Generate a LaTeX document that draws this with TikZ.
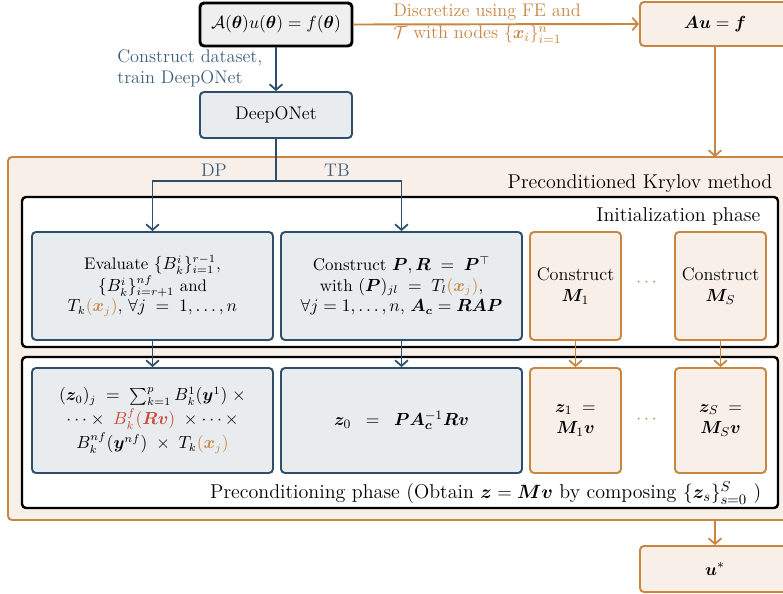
\documentclass[tikz,border=0pt]{standalone}
\usepackage{amsmath,amssymb,bm}
\usetikzlibrary{arrows.meta}
\definecolor{bl}{HTML}{2D4F6C}
\definecolor{bltext}{HTML}{3E5F7A}
\definecolor{blfill}{HTML}{E8ECEF}
\definecolor{orl}{HTML}{C98641}
\definecolor{peach}{HTML}{F8EFE9}
\definecolor{grayfill}{HTML}{EFEFEF}
\definecolor{redt}{HTML}{D0473A}
\newcommand{\orx}[1]{\textcolor{orl}{#1}}
\begin{document}
\begin{tikzpicture}[x=0.625pt,y=-0.625pt,
  tip/.style={-{Straight Barb[length=3.5pt,width=8pt,line width=1.1pt]}},
  bbox/.style={draw=bl,fill=blfill,line width=1.2pt,rounded corners=2.5pt,align=center,inner sep=2pt},
  obox/.style={draw=orl,fill=peach,line width=1.2pt,rounded corners=2.5pt,align=center,inner sep=2pt},
  phase/.style={draw=black,fill=white,line width=1.5pt,rounded corners=2.5pt},
  bline/.style={draw=bl,line width=1.2pt},
  oline/.style={draw=orl,line width=1.2pt},
  fn/.style={font=\fontsize{11.4}{13.6}\selectfont},
  fs/.style={font=\fontsize{10.5}{12.6}\selectfont},
  fp/.style={font=\fontsize{10.5}{15}\selectfont},
  fm/.style={font=\fontsize{10.6}{12.8}\selectfont},
  fl/.style={font=\fontsize{12.5}{15}\selectfont},
]
\useasboundingbox (0,0) rectangle (783,594);

% outer orange region
\path[draw=orl,fill=peach,line width=1.2pt,rounded corners=2.5pt] (8,157) rectangle (800,520);
\node[fl,anchor=east] (krylov) at (778,184) {Preconditioned Krylov method};

% phases
\path[phase] (22,197) rectangle (778,347);
\node[fl,anchor=east] (initlab) at (766,217) {Initialization phase};
\path[phase] (22,357) rectangle (778,508);
\node[fl,anchor=east] (prelab) at (767,493) {Preconditioning phase (Obtain $\bm{z}=\bm{Mv}$ by composing $\{\bm{z}_s\}_{s=0}^{S}$ )};

% top nodes
\node[fn,draw=black,fill=grayfill,line width=1.8pt,rounded corners=2.5pt,minimum width=152*0.625pt,minimum height=43*0.625pt] (pde) at (276,24.5) {$\mathcal{A}(\bm{\theta})u(\bm{\theta}) = f(\bm{\theta})$};
\node[fn,obox,minimum width=150*0.625pt,minimum height=44*0.625pt] (auf) at (715,24) {$\bm{Au}=\bm{f}$};
\node[fn,bbox,minimum width=152*0.625pt,minimum height=46*0.625pt] (don) at (276,115) {DeepONet};
\node[fn,obox,minimum width=150*0.625pt,minimum height=46*0.625pt] (ustar) at (715,569) {$\bm{u}^{*}$};

% init boxes
\node[fs,bbox,minimum width=241*0.625pt,minimum height=108*0.625pt] (e1) at (152.5,286) {Evaluate $\{B_k^i\}_{i=1}^{r-1}$,\\ $\{B_k^i\}_{i=r+1}^{nf}$ and\\ $T_k\orx{(\bm{x}_j)}$, $\forall j\;=\;1,\dots,n$};
\node[fm,bbox,minimum width=241*0.625pt,minimum height=108*0.625pt] (e2) at (401.5,286) {Construct $\bm{P},\bm{R}\;=\;\bm{P}^{\top}$\\ with $(\bm{P})_{jl}\;=\;T_l\orx{(\bm{x}_j)}$,\\ $\forall j=1,\dots,n$, $\bm{A_c}=\bm{RAP}$};
\node[fn,obox,minimum width=91*0.625pt,minimum height=108*0.625pt] (m1) at (575.5,286) {Construct\\ $\bm{M}_1$};
\node[fn,obox,minimum width=91*0.625pt,minimum height=108*0.625pt] (mS) at (720.5,286) {Construct\\ $\bm{M}_S$};
\node[fn,text=orl] (dots1) at (648,283) {$\cdots$};

% precond boxes
\node[fp,bbox,minimum width=241*0.625pt,minimum height=105*0.625pt] (p1) at (152.5,420.5) {$(\bm{z}_0)_j\;=\;\sum_{k=1}^{p} B_k^1(\bm{y}^1)\;\times$\\ $\cdots\times\;\textcolor{redt}{B_k^f(\bm{Rv})}\;\times\cdots\times$\\ $B_k^{nf}(\bm{y}^{nf})\;\times\;T_k\orx{(\bm{x}_j)}$};
\node[fn,bbox,minimum width=241*0.625pt,minimum height=105*0.625pt] (p2) at (401.5,420.5) {$\bm{z}_0\;\;=\;\;\bm{P}\bm{A_c}^{-1}\bm{Rv}$};
\node[fn,obox,minimum width=91*0.625pt,minimum height=105*0.625pt] (z1) at (575.5,420.5) {$\bm{z}_1\;=$\\ $\bm{M}_1\bm{v}$};
\node[fn,obox,minimum width=91*0.625pt,minimum height=105*0.625pt] (zS) at (720.5,420.5) {$\bm{z}_S\;=$\\ $\bm{M}_S\bm{v}$};
\node[fn,text=orl] (dots2) at (648,420) {$\cdots$};

% connectors
\draw[oline,tip] (pde.east) -- (auf.west);
\node[fn,text=orl,anchor=north west,align=left,inner sep=0pt] (disc) at (393,4) {Discretize using FE and\\ $\mathcal{T}$ with nodes $\{\bm{x}_i\}_{i=1}^{n}$};
\draw[bline,tip] (pde.south) -- (don.north);
\node[fn,text=bltext,anchor=north west,align=left,inner sep=0pt] (cons) at (117,49) {Construct dataset,\\ train DeepONet};

\coordinate (split) at (276,181);
\draw[bline] (don.south) -- (split);
\draw[bline,tip] (split) -| (e1.north);
\draw[bline,tip] (split) -| (e2.north);
\node[fn,text=bltext] (dp) at (214,170) {DP};
\node[fn,text=bltext] (tb) at (337,170) {TB};

\coordinate (outtop) at (715,157);
\coordinate (outbot) at (715,520);
\draw[oline,tip] (auf.south) -- (outtop);
\draw[oline,tip] (outbot) -- (ustar.north);

\draw[bline,tip] (e1.south) -- (p1.north);
\draw[bline,tip] (e2.south) -- (p2.north);
\draw[oline,tip] (m1.south) -- (z1.north);
\draw[oline,tip] (mS.south) -- (zS.north);
\end{tikzpicture}
\end{document}
